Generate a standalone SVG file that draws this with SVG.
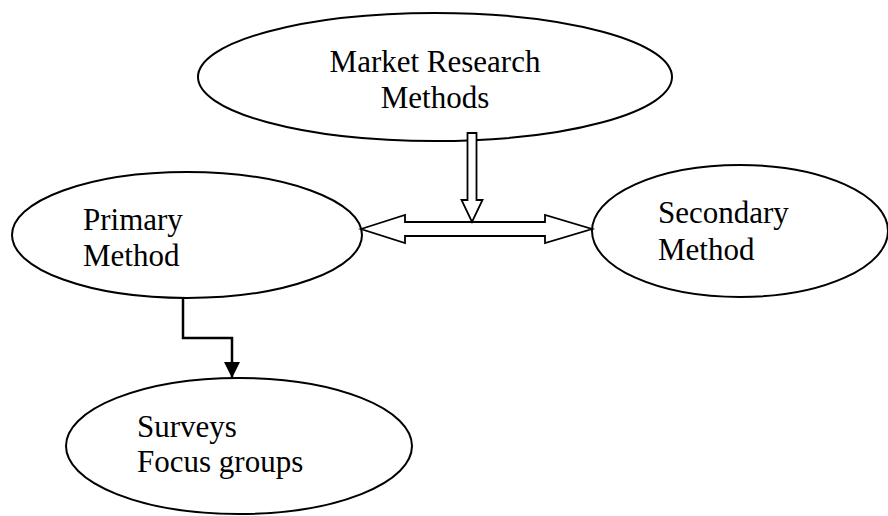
<svg xmlns="http://www.w3.org/2000/svg" width="888" height="516" viewBox="0 0 888 516">
<style>
.node ellipse{fill:#fff;stroke:#000;stroke-width:2}
.lbl{font-family:"Liberation Serif","Times New Roman",serif;font-size:31px;fill:#000}
.hollow{fill:#fff;stroke:#000;stroke-width:1.8;stroke-linejoin:miter}
.line{fill:none;stroke:#000;stroke-width:2.5}
</style>
<defs>
<marker id="ah" markerWidth="16" markerHeight="16" viewBox="0 0 16 16" refX="16" refY="8" orient="auto" markerUnits="userSpaceOnUse">
<path d="M0,0 L16,8 L0,16 z" fill="#000"/>
</marker>
</defs>
<rect width="888" height="516" fill="#fff"/>
<g id="market-research" class="node">
<ellipse cx="435" cy="77" rx="237" ry="64"/>
<text class="lbl" x="435" y="72" text-anchor="middle">Market Research</text>
<text class="lbl" x="435" y="108" text-anchor="middle">Methods</text>
</g>
<g id="primary" class="node">
<ellipse cx="187" cy="235" rx="175" ry="63"/>
<text class="lbl" x="83" y="230">Primary</text>
<text class="lbl" x="83" y="266">Method</text>
</g>
<g id="secondary" class="node">
<ellipse cx="740" cy="231" rx="148" ry="66"/>
<text class="lbl" x="658" y="223">Secondary</text>
<text class="lbl" x="658" y="260">Method</text>
</g>
<g id="surveys" class="node">
<ellipse cx="239" cy="446" rx="173" ry="68"/>
<text class="lbl" x="137" y="437">Surveys</text>
<text class="lbl" x="137" y="472">Focus groups</text>
</g>
<g id="connectors">
<polygon class="hollow" points="361,229 405,215 405,222 545,222 545,215 592,229 545,243 545,236 405,236 405,243"/>
<polygon class="hollow" points="467.5,133 476.5,133 476.5,200 482.5,200 472,222 461.5,200 467.5,200"/>
<polyline class="line" points="183,298 183,338 232,338 232,378" marker-end="url(#ah)"/>
</g>
</svg>
